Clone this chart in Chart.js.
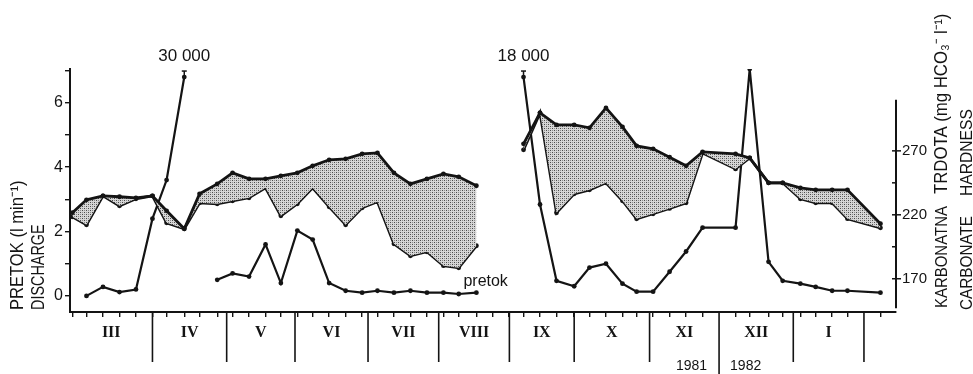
<!DOCTYPE html>
<html>
<head>
<meta charset="utf-8">
<title>Pretok in karbonatna trdota</title>
<script src="https://cdn.jsdelivr.net/npm/chart.js@4.4.0/dist/chart.umd.min.js"></script>
<style>
  html, body { margin: 0; padding: 0; background: #fff; }
  #wrap { width: 973px; height: 374px; position: relative; }
</style>
</head>
<body>
<div id="wrap"><canvas id="hydroChart"></canvas></div>
<script>
// sampling dates, days counted from 1 March 1981
const sampleDays = [1, 7, 14, 21, 28, 35, 41, 48.5,
    55, 62.5, 69, 76, 83, 89.5, 96.5, 103,
    110, 117, 124, 130.5, 137.5, 144.5, 151.5, 158.5,
    165, 172.5, 179.5, 186, 192.5, 199.5, 206.5, 214,
    220.5, 227.5, 234.5, 240.5, 247.5, 254.5, 261.5, 268.5,
    282.5, 288.5, 296.5, 302.5, 310, 316.5, 323.5, 330,
    344];

// discharge (l/min)
const discharge = [null, 0, 0.28, 0.12, 0.2, 2.4, 3.6, 30000,
    null, 0.5, 0.7, 0.6, 1.6, 0.4, 2.03, 1.75,
    0.4, 0.16, 0.1, 0.16, 0.1, 0.16, 0.1, 0.1,
    0.06, 0.1, null, null, 18000, 2.84, 0.47, 0.3,
    0.88, 1.0, 0.38, 0.13, 0.13, 0.75, 1.38, 2.12,
    2.12, 7.05, 1.06, 0.47, 0.38, 0.28, 0.16, 0.16,
    0.1];

// carbonate hardness (mg HCO3/l), two measurement series
const hardnessA = [221.6, 231.7, 234.8, 234.1, 233.3, 234.8, 223.1, 209.1,
    236.4, 244.2, 252.8, 248.1, 248.1, 250.5, 252.8, 258.3,
    263.0, 263.8, 267.7, 268.4, 252.8, 244.2, 248.1, 252.0,
    249.7, 242.7, null, null, 275.5, 299.7, 290.3, 290.3,
    288.0, 303.6, 288.8, 273.9, 271.6, 265.0, 258.3, 269.2,
    267.7, 264.5, 245.0, 245.0, 241.0, 239.5, 239.5, 239.5,
    213.0];
const hardnessB = [218.4, 212.2, 234.8, 227.0, 232.5, 234.8, 213.8, 209.1,
    229.4, 228.6, 230.9, 233.3, 241.1, 219.2, 228.6, 241.1,
    226.3, 212.2, 225.5, 230.2, 197.3, 188.0, 191.1, 180.2,
    178.6, 195.8, null, null, 270.8, 299.7, 221.6, 236.4,
    239.5, 245.0, 231.0, 216.9, 220.8, 225.0, 229.4, 268.4,
    255.9, 264.5, 245.0, 245.0, 232.5, 229.4, 229.4, 217.0,
    209.8];

const months = ['III', 'IV', 'V', 'VI', 'VII', 'VIII', 'IX', 'X', 'XI', 'XII', 'I'];
const monthEdges = [0, 35, 66.5, 95.5, 126.5, 156.5, 186.5, 214, 246, 275.5, 307, 337];
const years = ['1981', '1982'];
const dischargeLabels = [0, 2, 4, 6];
const hardnessTicks = [170, 195, 220, 245, 270];
const hardnessLabels = [170, 220, 270];

const INK = '#141414';
const DISCHARGE_MAX = 7.05;
const OFFSCALE_AT = 6.8;          // off-scale discharge is drawn here with its value written above
const HARDNESS_AXIS = [147, 310]; // drawn extent of the right axis

function points(values, cap) {
    return sampleDays.map((d, i) => {
        let v = values[i];
        if (cap && v !== null && v > cap) v = OFFSCALE_AT;
        return { x: d, y: v };
    });
}

function thousands(v) {
    return String(v).replace(/\B(?=(\d{3})+$)/g, ' ');
}

// fine dot screen used between the two hardness curves
function stipple() {
    const c = document.createElement('canvas');
    c.width = 4;
    c.height = 4;
    const p = c.getContext('2d');
    p.fillStyle = '#d6d6d6';
    p.fillRect(0, 0, 4, 4);
    p.fillStyle = '#4a4a4a';
    p.fillRect(0, 0, 1, 1);
    p.fillRect(2, 2, 1, 1);
    p.fillStyle = '#8c8c8c';
    p.fillRect(2, 0, 1, 1);
    p.fillRect(0, 2, 1, 1);
    return p.createPattern(c, 'repeat');
}

function vText(ctx, str, x, y, size, squeeze) {
    ctx.save();
    ctx.translate(x, y);
    ctx.rotate(-Math.PI / 2);
    ctx.scale(squeeze, 1);
    ctx.font = size + 'px "Liberation Sans", Arial, sans-serif';
    ctx.textAlign = 'left';
    ctx.textBaseline = 'middle';
    ctx.fillText(str, 0, 0);
    ctx.restore();
}

function seg(ctx, x1, y1, x2, y2) {
    ctx.beginPath();
    ctx.moveTo(x1, y1);
    ctx.lineTo(x2, y2);
    ctx.stroke();
}

const decorations = {
    id: 'decorations',
    afterDraw(chart) {
        const { ctx, chartArea } = chart;
        const { x, y, y2 } = chart.scales;
        ctx.save();
        ctx.strokeStyle = INK;
        ctx.fillStyle = INK;

        // off-scale discharge peaks
        ctx.font = '17px "Liberation Sans", Arial, sans-serif';
        ctx.textAlign = 'center';
        ctx.textBaseline = 'middle';
        discharge.forEach((v, i) => {
            if (v === null || v <= DISCHARGE_MAX) return;
            const px = x.getPixelForValue(sampleDays[i]);
            const py = y.getPixelForValue(OFFSCALE_AT);
            ctx.lineWidth = 1.5;
            seg(ctx, px, py, px, py - 6);
            seg(ctx, px - 2.5, py - 6, px + 2.5, py - 6);
            ctx.fillText(thousands(v), px, py - 21);
        });

        // "pretok" next to the summer discharge curve
        const last = 25;
        ctx.font = '16px "Liberation Sans", Arial, sans-serif';
        ctx.textAlign = 'left';
        ctx.textBaseline = 'alphabetic';
        ctx.fillText('pretok', x.getPixelForValue(sampleDays[last]) - 13,
            y.getPixelForValue(discharge[last]) - 7);

        // right axis (hardness)
        const ax = chartArea.right;
        ctx.lineWidth = 2;
        seg(ctx, ax, y2.getPixelForValue(HARDNESS_AXIS[1]), ax, y2.getPixelForValue(HARDNESS_AXIS[0]));
        ctx.lineWidth = 1.5;
        ctx.font = '15px "Liberation Sans", Arial, sans-serif';
        ctx.textBaseline = 'middle';
        hardnessTicks.forEach(v => {
            const py = y2.getPixelForValue(v);
            const labelled = hardnessLabels.includes(v);
            seg(ctx, ax - 4, py, ax + (labelled ? 5 : 0), py);
            if (labelled) ctx.fillText(String(v), ax + 6, py);
        });

        // month dividers and names under the time axis
        const base = chartArea.bottom;
        ctx.lineWidth = 1.6;
        monthEdges.forEach((d, i) => {
            if (i === 0) return;
            const len = months[i - 1] === 'XI' ? 62 : 50;
            const px = x.getPixelForValue(d);
            seg(ctx, px, base, px, base + len);
        });
        ctx.font = 'bold 16px "Liberation Serif", "DejaVu Serif", serif';
        ctx.textAlign = 'center';
        months.forEach((m, i) => {
            const px = x.getPixelForValue((monthEdges[i] + monthEdges[i + 1]) / 2);
            ctx.fillText(m, px, base + 21);
        });

        // year change between XI and XII
        const yearEdge = x.getPixelForValue(monthEdges[months.indexOf('XII')]);
        ctx.font = '14px "Liberation Sans", Arial, sans-serif';
        ctx.textAlign = 'right';
        ctx.fillText(years[0], yearEdge - 12, base + 54);
        ctx.textAlign = 'left';
        ctx.fillText(years[1], yearEdge + 11, base + 54);

        // axis titles
        vText(ctx, 'PRETOK (l min\u207B\u00B9)', 18, 310, 18, 0.92);
        vText(ctx, 'DISCHARGE', 39, 310, 18, 0.8);
        vText(ctx, 'KARBONATNA', 942, 308, 17, 0.88);
        vText(ctx, 'TRDOTA (mg HCO\u2083\u207B l\u207B\u00B9)', 942, 194, 18, 0.93);
        vText(ctx, 'CARBONATE', 967, 310, 17, 0.9);
        vText(ctx, 'HARDNESS', 967, 196, 17, 0.92);

        ctx.restore();
    }
};

function renderChart() {
    const ctx = document.getElementById('hydroChart').getContext('2d');
    const lineStyle = {
        borderColor: INK,
        pointRadius: 2.4,
        pointBackgroundColor: INK,
        pointBorderWidth: 0,
        tension: 0
    };

    new Chart(ctx, {
        type: 'line',
        data: {
            datasets: [
                Object.assign({
                    label: 'hardness A',
                    data: points(hardnessA),
                    yAxisID: 'y2',
                    borderWidth: 2.8,
                    fill: '+1',
                    backgroundColor: stipple()
                }, lineStyle),
                Object.assign({
                    label: 'hardness B',
                    data: points(hardnessB),
                    yAxisID: 'y2',
                    borderWidth: 2.8,
                    fill: false
                }, lineStyle),
                Object.assign({
                    label: 'pretok',
                    data: points(discharge, DISCHARGE_MAX),
                    yAxisID: 'y',
                    borderWidth: 2.2,
                    fill: false
                }, lineStyle)
            ]
        },
        options: {
            responsive: true,
            maintainAspectRatio: false,
            animation: false,
            layout: { padding: { top: 69, right: 77, bottom: 0, left: 0 } },
            plugins: {
                legend: { display: false },
                tooltip: { enabled: false }
            },
            scales: {
                x: {
                    type: 'linear',
                    min: 0,
                    max: 350.6,
                    afterBuildTicks: axis => {
                        axis.ticks = sampleDays.map(v => ({ value: v }));
                    },
                    afterFit: axis => { axis.height = 62; },
                    ticks: { display: false },
                    grid: { drawOnChartArea: false, tickLength: 5, color: INK, lineWidth: 1.4 },
                    border: { display: true, color: INK, width: 2 }
                },
                y: {
                    position: 'left',
                    min: -0.5,
                    max: DISCHARGE_MAX,
                    afterFit: axis => { axis.width = 70; },
                    ticks: {
                        stepSize: 1,
                        includeBounds: false,
                        padding: 2,
                        color: INK,
                        font: { family: '"Liberation Sans", Arial, sans-serif', size: 16 },
                        callback: v => dischargeLabels.includes(v) ? String(v) : ''
                    },
                    grid: { drawOnChartArea: false, tickLength: 5, color: INK, lineWidth: 1.4 },
                    border: { display: true, color: INK, width: 2 }
                },
                y2: {
                    display: false,
                    position: 'right',
                    min: 144,
                    max: 334
                }
            }
        },
        plugins: [decorations]
    });
}

document.addEventListener('DOMContentLoaded', renderChart);
</script>
</body>
</html>
